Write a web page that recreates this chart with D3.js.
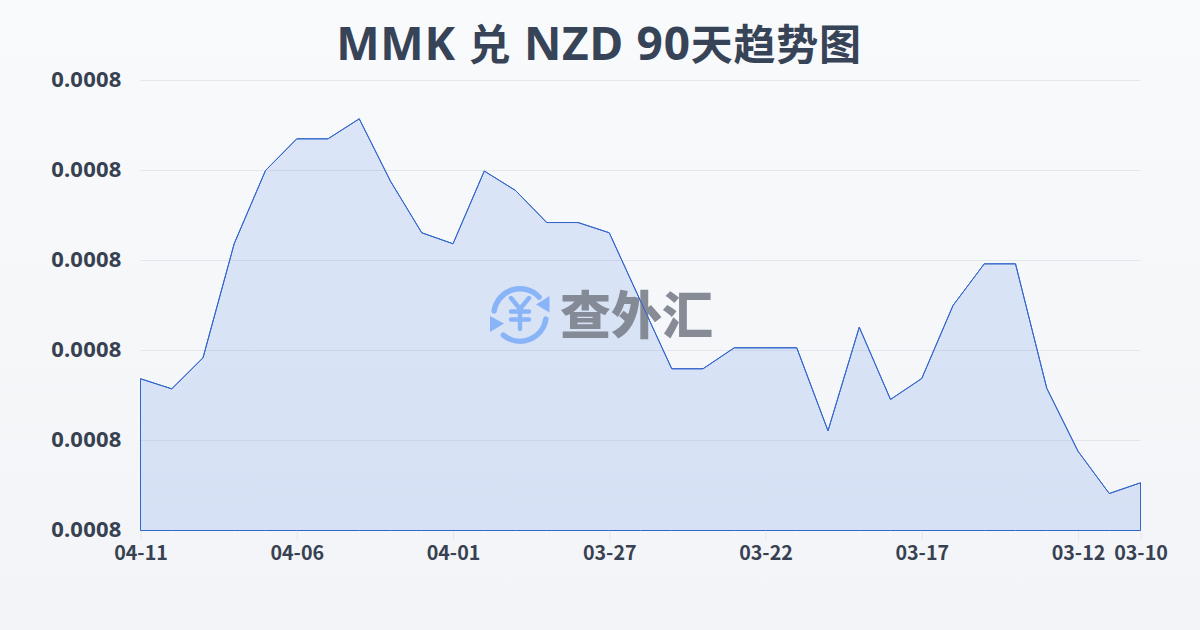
<!DOCTYPE html>
<html lang="zh">
<head>
<meta charset="utf-8">
<script src="https://cdn.jsdelivr.net/npm/d3@7/dist/d3.min.js"></script>
<style>
html,body{margin:0;padding:0;width:1200px;height:630px;overflow:hidden;background:#f6f8fa}
svg{display:block}
text{font-family:"Noto Sans CJK SC",sans-serif}
</style>
</head>
<body>
<svg id="chart" width="1200" height="630"></svg>
<script>
const titleParts = ["MMK ","兑"," NZD 90","天趋势图"];
const watermarkText = "查外汇";
const dates = ["04-11","04-10","04-09","04-08","04-07","04-06","04-05","04-04","04-03","04-02","04-01",
  "03-31","03-30","03-29","03-28","03-27","03-26","03-25","03-24","03-23","03-22","03-21","03-20","03-19",
  "03-18","03-17","03-16","03-15","03-14","03-13","03-12","03-11","03-10"];
const rates = [0.00077686,0.00077574,0.00077919,0.00079189,0.00080000,0.00080352,0.00080352,0.00080574,
  0.00079881,0.00079308,0.00079186,0.00079994,0.00079778,0.00079422,0.00079422,0.00079308,0.00078550,
  0.00077797,0.00077797,0.00078030,0.00078030,0.00078030,0.00077108,0.00078259,0.00077456,0.00077689,
  0.00078500,0.00078963,0.00078963,0.00077581,0.00076881,0.00076411,0.00076530];
const xTickLabels = ["04-11","04-06","04-01","03-27","03-22","03-17","03-12","03-10"];
const yTickValues = [0.00076,0.00077,0.00078,0.00079,0.00080,0.00081];

const svg = d3.select("#chart");
const defs = svg.append("defs");
const bg = defs.append("linearGradient").attr("id","bg").attr("x1",0).attr("y1",0).attr("x2",0).attr("y2",1);
bg.append("stop").attr("offset","0%").attr("stop-color","#f8fafc");
bg.append("stop").attr("offset","100%").attr("stop-color","#f2f4f7");
svg.append("rect").attr("width",1200).attr("height",630).attr("fill","url(#bg)");

const x = d3.scalePoint().domain(dates).range([140.5,1140.5]);
const y = d3.scaleLinear().domain([0.00076,0.00081]).range([530.5,80.5]);

const title = svg.append("text").attr("x",599).attr("y",60).attr("text-anchor","middle")
  .attr("font-weight",700).attr("fill","#374357").attr("letter-spacing",0.75).style("white-space","pre");
title.selectAll("tspan").data(titleParts).join("tspan")
  .attr("font-size",(d,i)=>i%2?42:46)
  .style("font-family",(d,i)=>i%2?'"Noto Sans CJK SC",sans-serif':'"Noto Sans",sans-serif')
  .text(d=>d);

svg.append("g").selectAll("line").data(yTickValues).join("line")
  .attr("x1",x.range()[0]).attr("x2",x.range()[1])
  .attr("y1",d=>y(d)).attr("y2",d=>y(d))
  .attr("stroke","#e3e7ec").attr("stroke-width",1);

const yAxis = svg.append("g").attr("transform","translate(140.5,-1)")
  .call(d3.axisLeft(y).tickValues(yTickValues).tickSize(0).tickPadding(19).tickFormat(d=>d.toFixed(4)));
yAxis.select(".domain").remove();
yAxis.selectAll("text").attr("font-size",22).attr("font-weight",700).attr("fill","#374151")
  .attr("letter-spacing",0.2).style("font-family",'"Noto Sans",sans-serif');

const xAxis = svg.append("g").attr("transform","translate(0,530.5)")
  .call(d3.axisBottom(x).tickValues(xTickLabels).tickSize(10).tickPadding(6));
xAxis.select(".domain").remove();
xAxis.selectAll("line").attr("stroke","#e3e7ec");
xAxis.selectAll("text").attr("font-size",19.7).attr("font-weight",700).attr("fill","#374151");

const area = d3.area().x((d,i)=>x(dates[i])).y0(y(0.00076)).y1(d=>y(d));
svg.append("path").datum(rates).attr("d",area)
  .attr("fill","#3b70e6").attr("fill-opacity",0.15)
  .attr("stroke","#3366cc").attr("stroke-width",1).attr("stroke-linejoin","round");

const wm = svg.append("g");
const cx = 520, cy = 315, r = 26.2;
const arcGen = (a0,a1)=>{const p=d3.path();p.arc(cx,cy,r,a0,a1);return p.toString();};
const iconColor = "#8ab4f8";
wm.append("path").attr("d",arcGen(-Math.PI*0.95,-Math.PI*0.24)).attr("fill","none").attr("stroke",iconColor).attr("stroke-width",5.5).attr("stroke-linecap","round");
wm.append("path").attr("d",arcGen(Math.PI*0.05,Math.PI*0.72)).attr("fill","none").attr("stroke",iconColor).attr("stroke-width",5.5).attr("stroke-linecap","round");
wm.append("path").attr("d","M536,304.5L549.5,296L549.5,312.5Z").attr("fill",iconColor);
wm.append("path").attr("d","M490,316L504,323.5L490,332Z").attr("fill",iconColor);
wm.append("path").attr("d","M511,298L520,309L529,298M511,311.5H529M511,319.5H529M520,309V329")
  .attr("fill","none").attr("stroke",iconColor).attr("stroke-width",4.4).attr("stroke-linecap","round").attr("stroke-linejoin","round");
wm.append("text").attr("x",560).attr("y",334).attr("font-size",51).attr("font-weight",900)
  .attr("fill","#7f8590").attr("fill-opacity",0.95).text(watermarkText);

svg.append("path").datum(rates)
  .attr("d",d3.line().x((d,i)=>x(dates[i])).y(d=>y(d)))
  .attr("fill","none").attr("stroke","#3366cc").attr("stroke-width",1);
</script>
</body>
</html>
